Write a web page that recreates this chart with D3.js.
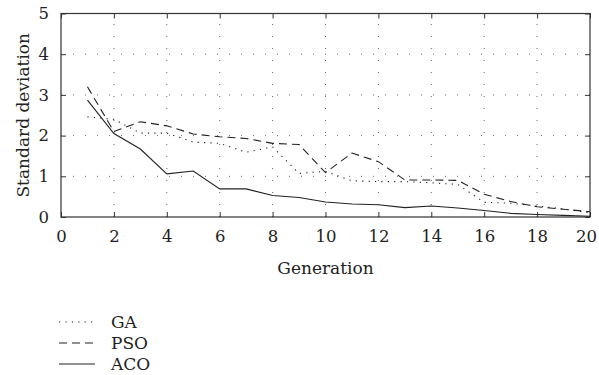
<!DOCTYPE html>
<html>
<head>
<meta charset="utf-8">
<script src="https://cdn.jsdelivr.net/npm/d3@7"></script>
<style>
  body { margin: 0; background: #fff; }
  text { font-family: "DejaVu Serif", serif; fill: #222; }
</style>
</head>
<body>
<svg id="chart" width="599" height="375"></svg>
<script>
// data
var generations = d3.range(1, 21);
var gaValues  = [2.46, 2.40, 2.06, 2.06, 1.84, 1.81, 1.59, 1.72, 1.07, 1.12, 0.89, 0.87, 0.87, 0.84, 0.80, 0.36, 0.34, 0.27, 0.20, 0.10];
var psoValues = [3.20, 2.10, 2.34, 2.24, 2.04, 1.97, 1.93, 1.81, 1.78, 1.09, 1.57, 1.36, 0.91, 0.91, 0.90, 0.56, 0.38, 0.25, 0.19, 0.13];
var acoValues = [2.87, 2.05, 1.67, 1.06, 1.13, 0.69, 0.69, 0.53, 0.48, 0.37, 0.32, 0.30, 0.23, 0.27, 0.22, 0.16, 0.09, 0.06, 0.04, 0.02];
var xTicks = [0, 2, 4, 6, 8, 10, 12, 14, 16, 18, 20];
var yTicks = [0, 1, 2, 3, 4, 5];

var series = [
  { name: "GA",  values: gaValues,  dash: "1.2,5.2" },
  { name: "PSO", values: psoValues, dash: "8,5" },
  { name: "ACO", values: acoValues, dash: null }
];

var svg = d3.select("#chart");
var plotL = 61, plotR = 590, plotT = 13.5, plotB = 217;

var x = d3.scaleLinear().domain([0, 20]).range([plotL, plotR]);
var y = d3.scaleLinear().domain([0, 5]).range([plotB, plotT]);

// dotted grid
var grid = svg.append("g").attr("stroke", "#666").attr("stroke-width", 1).attr("stroke-dasharray", "1,11");
grid.selectAll(".vg").data(xTicks.slice(1, -1)).enter().append("line")
  .attr("x1", d => x(d)).attr("x2", d => x(d)).attr("y1", plotB).attr("y2", plotT);
grid.selectAll(".hg").data(yTicks.slice(1, -1)).enter().append("line")
  .attr("y1", d => y(d)).attr("y2", d => y(d)).attr("x1", plotL).attr("x2", plotR);

// axes with inward ticks on all four sides
function styleAxis(g) {
  g.select(".domain").remove();
  g.selectAll(".tick line").attr("stroke", "#333");
  g.selectAll("text").style("font-size", "16.5px").attr("fill", "#222");
}
var xAxisG = svg.append("g").attr("transform", "translate(0," + plotB + ")")
  .call(d3.axisBottom(x).tickValues(xTicks).tickSizeInner(-5).tickPadding(13))
  .call(styleAxis);
// the last label sits against the page edge
xAxisG.selectAll(".tick text").filter(d => d === 20).attr("dx", -4);
svg.append("g").attr("transform", "translate(0," + plotT + ")")
  .call(d3.axisTop(x).tickValues(xTicks).tickSizeInner(-5).tickFormat(""))
  .call(styleAxis);
svg.append("g").attr("transform", "translate(" + plotL + ",0)")
  .call(d3.axisLeft(y).tickValues(yTicks).tickFormat(d3.format("d")).tickSizeInner(-5).tickPadding(12))
  .call(styleAxis);
svg.append("g").attr("transform", "translate(" + plotR + ",0)")
  .call(d3.axisRight(y).tickValues(yTicks).tickSizeInner(-5).tickFormat(""))
  .call(styleAxis);

svg.append("rect").attr("x", plotL).attr("y", plotT)
  .attr("width", plotR - plotL).attr("height", plotB - plotT)
  .attr("fill", "none").attr("stroke", "#333").attr("stroke-width", 1.2);

// series lines
var line = d3.line().x((d, i) => x(generations[i])).y(d => y(d));
svg.selectAll(".series").data(series).enter().append("path")
  .attr("d", d => line(d.values))
  .attr("fill", "none").attr("stroke", "#222").attr("stroke-width", 1.1)
  .attr("stroke-dasharray", d => d.dash);

// axis titles
svg.append("text").attr("x", (plotL + plotR) / 2).attr("y", 274)
  .attr("text-anchor", "middle").style("font-size", "17px").text("Generation");
svg.append("text").attr("transform", "translate(29," + ((plotT + plotB) / 2) + ") rotate(-90)")
  .attr("text-anchor", "middle").style("font-size", "17px").text("Standard deviation");

// legend
var legend = svg.selectAll(".leg").data(series).enter().append("g")
  .attr("transform", (d, i) => "translate(59," + (322 + i * 21) + ")");
legend.append("line").attr("x1", 0).attr("x2", 36).attr("y1", 0).attr("y2", 0)
  .attr("stroke", "#222").attr("stroke-width", 1.1).attr("stroke-dasharray", d => d.dash);
legend.append("text").attr("x", 52).attr("y", 6).style("font-size", "17px").text(d => d.name);
</script>
</body>
</html>
